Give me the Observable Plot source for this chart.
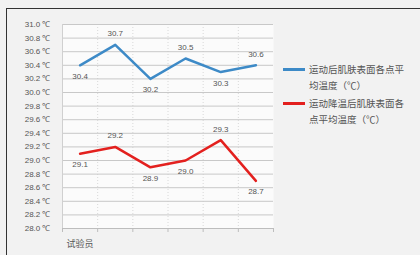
<!DOCTYPE html>
<html><head><meta charset="utf-8">
<script src="https://cdn.jsdelivr.net/npm/d3@7"></script>
<script src="https://cdn.jsdelivr.net/npm/@observablehq/plot@0.6"></script>
<style>
body{margin:0;background:#f2f2f2;font-family:"Noto Sans CJK SC","Noto Sans",sans-serif;}
#wrap{position:relative;width:420px;height:255px;overflow:hidden;background:#f2f2f2;}
#frame{position:absolute;left:6px;top:8px;width:420px;height:260px;border-left:1px solid #333;border-top:1px solid #333;}
#chart{position:absolute;left:0;top:0;}
#legend{position:absolute;left:283px;top:61px;font-size:9.5px;color:#555;line-height:16px;}
.item{display:flex;align-items:flex-start;margin-bottom:2px;}
.sw{width:22px;height:3px;margin-top:7px;margin-right:4px;flex:none;}
.txt{width:100px;}
</style></head>
<body><div id="wrap"><div id="frame"></div><div id="chart"></div>
<div id="legend"></div></div>
<script>
const categories = [1, 2, 3, 4, 5, 6];
const xLabel = "试验员";
const seriesNames = ["运动后肌肤表面各点平均温度（℃）", "运动降温后肌肤表面各点平均温度（℃）"];
const afterExercise = [30.4, 30.7, 30.2, 30.5, 30.3, 30.4];
const afterCooling = [29.1, 29.2, 28.9, 29.0, 29.3, 28.7];
const afterExerciseLabels = ["30.4", "30.7", "30.2", "30.5", "30.3", "30.6"];
const afterCoolingLabels = ["29.1", "29.2", "28.9", "29.0", "29.3", "28.7"];
const labelAbove1 = [false, true, false, true, false, true];
const labelAbove2 = [false, true, false, false, true, false];
const yTicks = d3.range(0, 16).map(i => +(28 + i * 0.2).toFixed(1));
const colors = ["#3d8ac7", "#e3201e"];

const d1 = categories.map((c, i) => ({x: c, y: afterExercise[i], label: afterExerciseLabels[i], above: labelAbove1[i]}));
const d2 = categories.map((c, i) => ({x: c, y: afterCooling[i], label: afterCoolingLabels[i], above: labelAbove2[i]}));
const bounds = d3.range(0, 7).map(i => 0.5 + i);

const plot = Plot.plot({
  width: 420, height: 255,
  marginLeft: 62, marginRight: 147, marginTop: 24, marginBottom: 27,
  style: {background: "transparent", fontFamily: "Liberation Sans, sans-serif", fontSize: "8px", color: "#555"},
  x: {domain: [0.5, 6.5], axis: null},
  y: {domain: [28, 31], axis: null},
  marks: [
    Plot.frame({fill: "#fbfbfb", stroke: null}),
    Plot.ruleX(bounds.slice(1, -1), {stroke: "#d8d8d8", strokeDasharray: "1,2"}),
    Plot.ruleY(yTicks, {stroke: "#c8c8c8", strokeWidth: 1}),
    Plot.ruleX([0.5], {stroke: "#d0d0d0"}),
    Plot.axisY({ticks: yTicks, tickSize: 0, tickPadding: 12, label: null, tickFormat: d => d.toFixed(1) + " ℃", fill: "#555", fontSize: 8}),
    Plot.ruleY([28], {stroke: "#bdbdbd"}),
    Plot.axisX({ticks: bounds, tickSize: 4, label: null, tickFormat: () => "", stroke: "#bdbdbd"}),
    Plot.text([xLabel], {x: [1], y: [28], dy: 16, text: d => d, fontSize: 9, fill: "#555", fontFamily: "Noto Sans CJK SC"}),
    Plot.line(d1, {x: "x", y: "y", stroke: colors[0], strokeWidth: 2.5}),
    Plot.line(d2, {x: "x", y: "y", stroke: colors[1], strokeWidth: 2.5}),
    Plot.text(d1.filter(d => d.above), {x: "x", y: "y", text: "label", dy: -11, fill: "#555", fontSize: 8}),
    Plot.text(d1.filter(d => !d.above), {x: "x", y: "y", text: "label", dy: 11, fill: "#555", fontSize: 8}),
    Plot.text(d2.filter(d => d.above), {x: "x", y: "y", text: "label", dy: -11, fill: "#555", fontSize: 8}),
    Plot.text(d2.filter(d => !d.above), {x: "x", y: "y", text: "label", dy: 11, fill: "#555", fontSize: 8})
  ]
});
document.getElementById("chart").appendChild(plot);
const leg = document.getElementById("legend");
seriesNames.forEach((n, i) => {
  const it = document.createElement("div"); it.className = "item";
  const sw = document.createElement("div"); sw.className = "sw"; sw.style.background = colors[i];
  const t = document.createElement("div"); t.className = "txt"; t.textContent = n;
  it.appendChild(sw); it.appendChild(t); leg.appendChild(it);
});
</script>
</body></html>
